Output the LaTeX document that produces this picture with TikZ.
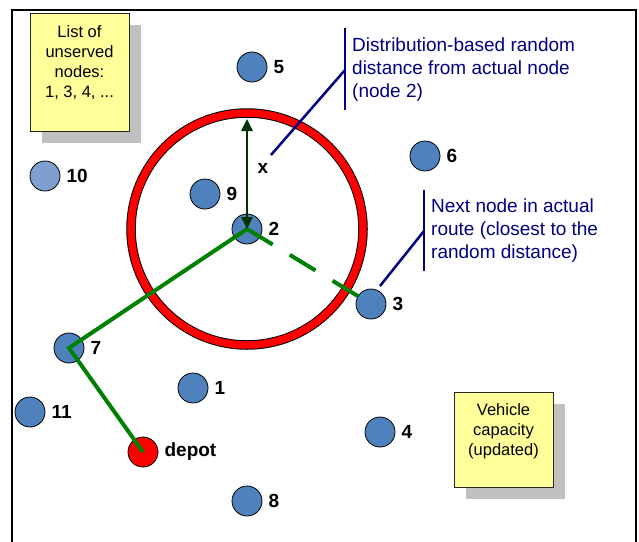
\documentclass[tikz,border=0pt]{standalone}
\usepackage{fontspec}
\setmainfont{Liberation Sans}
\usetikzlibrary{arrows.meta, positioning, shadows, backgrounds}
\definecolor{nodeBlue}{HTML}{4F81BD}
\definecolor{nodePale}{HTML}{7F9FD0}
\definecolor{depotRed}{HTML}{FF0000}
\definecolor{routeGreen}{HTML}{008000}
\definecolor{arrowGreen}{HTML}{003300}
\definecolor{leaderNavy}{HTML}{000080}
\definecolor{noteYellow}{HTML}{FFFF99}
\definecolor{shadowGray}{HTML}{C0C0C0}

\begin{document}
\begin{tikzpicture}[
    x=1pt, y=-1pt,
    label distance=6pt,
    stop/.style={circle, draw=black, line width=0.8pt, fill=#1,
                 minimum size=30pt, inner sep=0pt},
    stop/.default=nodeBlue,
    num/.style={font=\fontsize{19}{19}\selectfont\bfseries, inner sep=0pt},
    note/.style={rectangle, draw=black!85, line width=0.8pt, fill=noteYellow,
                 align=center, inner sep=0pt, font=\fontsize{16.5}{20}\selectfont,
                 drop shadow={shadow xshift=12pt, shadow yshift=-12pt,
                              fill=shadowGray, opacity=1}},
    leader/.style={draw=leaderNavy, line width=2.5pt},
    calltext/.style={text=leaderNavy, align=left, inner sep=0pt, anchor=north west,
                     font=\fontsize{19}{23}\selectfont},
    route/.style={draw=routeGreen, line width=4pt, line join=miter},
    reach/.style={{Triangle[length=12pt,width=11pt]}-{Triangle[length=12pt,width=11pt]},
                  draw=arrowGreen, line width=2.5pt},
]
\useasboundingbox (0,0) rectangle (639,541);

% ── Frame ──
\draw[line width=2.5pt] (12,10) rectangle (636,570);

% ── Notes ──
\node[note, minimum width=99pt, minimum height=118pt] (unserved) at (79.5,72)
    {List of\\unserved\\nodes:\\1, 3, 4, ...\\[0pt]\mbox{}};
\node[note, minimum width=99pt, minimum height=95pt] (capacity) at (503.5,439.5)
    {Vehicle\\capacity\\(updated)\\[0pt]\mbox{}};

% ── Customers ──
\node[stop, label={[num]right:5}] (n5) at (252,67) {};
\node[stop=nodePale, label={[num]right:10}] (n10) at (45,176) {};
\node[stop, label={[num]right:9}] (n9) at (205,194) {};
\node[stop, label={[num]right:6}] (n6) at (425,156) {};
\node[stop, label={[num]right:2}] (n2) at (247,229) {};
\node[stop, label={[num]right:3}] (n3) at (371,304) {};
\node[stop, label={[num]right:7}] (n7) at (69,348) {};
\node[stop, label={[num]right:1}] (n1) at (193,388) {};
\node[stop, label={[num]right:11}] (n11) at (30,412) {};
\node[stop, label={[num]right:4}] (n4) at (380,432) {};
\node[stop, label={[num]right:8}] (n8) at (247,501) {};
\node[stop=depotRed, label={[num]right:depot}] (depot) at (143,452) {};

% ── Search circle ──
\begin{scope}[on background layer]
\draw[line width=9.5pt, black] (n2.center) circle[radius=116];
\draw[line width=7.5pt, depotRed] (n2.center) circle[radius=116];
\end{scope}

% ── Route ──
\draw[route] (n2.center) -- (n7.center) -- (depot.center);
\draw[route, dash pattern=on 30pt off 20pt] (n2.center) -- (n3.center);

% ── Random distance ──
\coordinate (ringtop) at (247,119);
\draw[reach] (ringtop) -- (n2.center);
\node[num] (xlab) at (263,168) {x};

% ── Callouts ──
\coordinate (bar1top) at (345,28);
\coordinate (bar1bot) at (345,110);
\coordinate (bar1mid) at (345,70);
\coordinate (xpoint) at (271,155);
\draw[leader] (bar1top) -- (bar1bot);
\draw[leader] (bar1mid) -- (xpoint);
\node[calltext] (disttext) at (352,38)
    {Distribution-based random\\distance from actual node\\(node 2)};

\coordinate (bar2top) at (424,190);
\coordinate (bar2bot) at (424,271);
\coordinate (bar2mid) at (424,231);
\coordinate (npoint) at (380,286);
\draw[leader] (bar2top) -- (bar2bot);
\draw[leader] (bar2mid) -- (npoint);
\node[calltext] (nexttext) at (431,199)
    {Next node in actual\\route (closest to the\\random distance)};

\end{tikzpicture}
\end{document}
